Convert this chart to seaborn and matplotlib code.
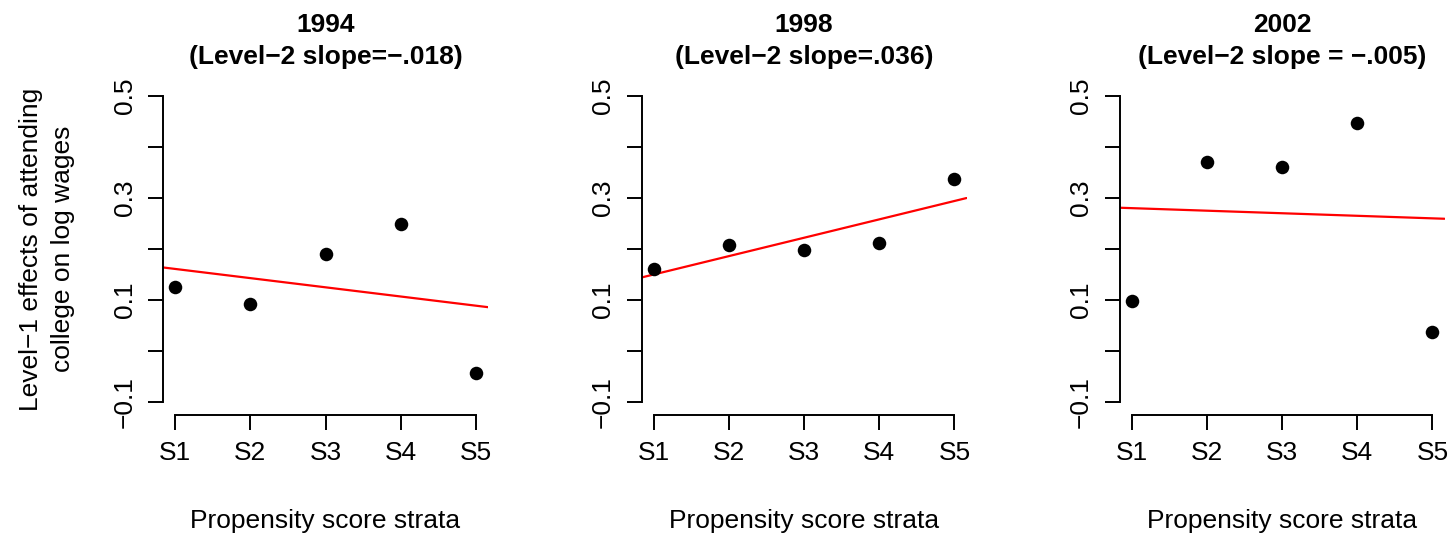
import matplotlib
matplotlib.use("Agg")
import matplotlib.pyplot as plt
import seaborn as sns
import pandas as pd

# data
strata = ["S1", "S2", "S3", "S4", "S5"]
strata_pos = [1, 2, 3, 4, 5]
years = ["1994", "1998", "2002"]
slope_titles = ["(Level\u22122 slope=\u2212.018)",
                "(Level\u22122 slope=.036)",
                "(Level\u22122 slope = \u2212.005)"]
effects_1994 = [0.125, 0.092, 0.191, 0.248, -0.043]
effects_1998 = [0.160, 0.208, 0.199, 0.211, 0.337]
effects_2002 = [0.099, 0.370, 0.360, 0.447, 0.037]
intercepts = [0.179, 0.114, 0.285]
slopes = [-0.018, 0.036, -0.005]
y_ticks = [-0.1, 0.0, 0.1, 0.2, 0.3, 0.4, 0.5]
y_ticklabels = ["\u22120.1", "", "0.1", "", "0.3", "", "0.5"]

sns.set_style("white")
plt.rcParams["font.family"] = ["Liberation Sans", "DejaVu Sans"]
plt.rcParams["text.color"] = "black"
plt.rcParams["axes.labelcolor"] = "black"

fig = plt.figure(figsize=(14.52, 5.38), dpi=100)
lefts = [163 / 1452, 641.5 / 1452, 1119.5 / 1452]
all_effects = [effects_1994, effects_1998, effects_2002]
fs = 19

for i in range(3):
    ax = fig.add_axes([lefts[i], 1 - 414.5 / 538, 325 / 1452, 331 / 538])
    df = pd.DataFrame({"x": strata_pos, "y": all_effects[i]})
    sns.scatterplot(data=df, x="x", y="y", ax=ax, color="black", s=95,
                    linewidth=0, zorder=3)
    ax.axline((0, intercepts[i]), slope=slopes[i], color="red", lw=1.6)

    ax.set_xlim(0.84, 5.16)
    ax.set_ylim(-0.124, 0.524)
    for side in ["top", "right"]:
        ax.spines[side].set_visible(False)
    ax.spines["left"].set_bounds(-0.1, 0.5)
    ax.spines["bottom"].set_bounds(1, 5)
    for side in ["left", "bottom"]:
        ax.spines[side].set_linewidth(1.4)
        ax.spines[side].set_color("black")

    ax.set_xticks(strata_pos)
    ax.set_xticklabels(strata)
    ax.set_yticks(y_ticks)
    ax.set_yticklabels(y_ticklabels)
    ax.tick_params(axis="both", direction="out", length=11, width=1.4,
                   labelsize=fs, colors="black", bottom=True, left=True)
    ax.tick_params(axis="x", pad=8)
    ax.tick_params(axis="y", pad=8)
    for lab in ax.get_yticklabels():
        lab.set_rotation(90)
        lab.set_va("center")

    ax.set_xlabel("Propensity score strata", fontsize=fs, labelpad=32)
    if i == 0:
        ax.set_ylabel("Level\u22121 effects of attending\ncollege on log wages",
                      fontsize=fs, labelpad=27, linespacing=1.45)
    else:
        ax.set_ylabel("")
    ax.set_title(years[i] + "\n" + slope_titles[i], fontsize=fs,
                 fontweight="bold", pad=14, linespacing=1.4)

fig.savefig("out.png", dpi=100)
